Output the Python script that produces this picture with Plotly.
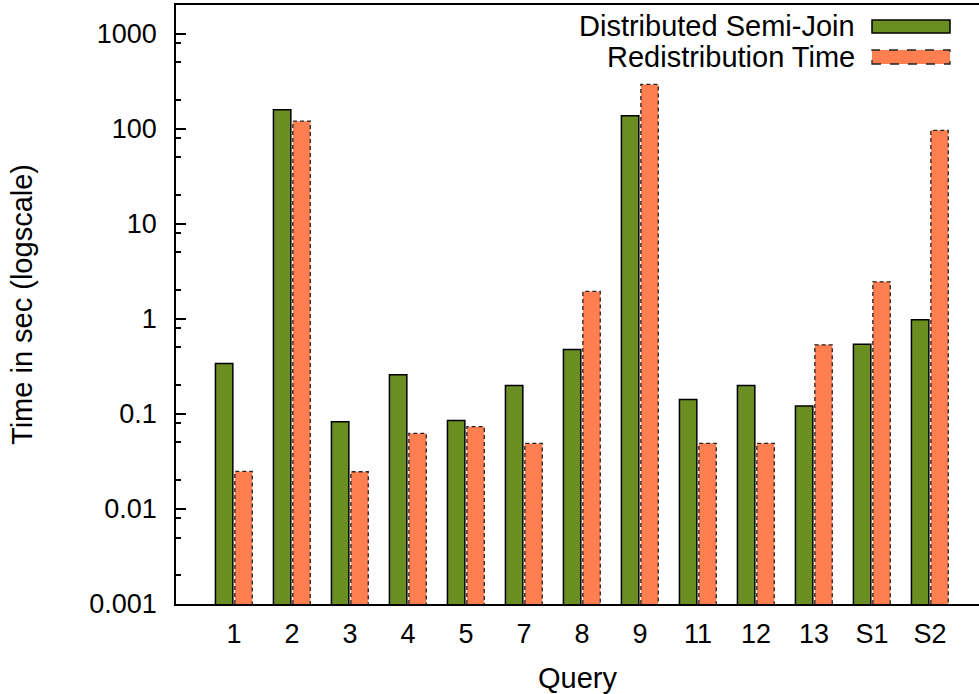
import plotly.graph_objects as go

# ---- data ----
queries = ["1", "2", "3", "4", "5", "7", "8", "9", "11", "12", "13", "S1", "S2"]
semi_join = [0.339, 158, 0.0826, 0.258, 0.0853, 0.199, 0.476, 137, 0.142, 0.199, 0.121, 0.541, 0.976]
redistribution = [0.0248, 120, 0.0246, 0.0623, 0.0733, 0.0489, 1.94, 292, 0.049, 0.049, 0.533, 2.45, 96]
ytick_vals = [0.001, 0.01, 0.1, 1, 10, 100, 1000]
ytick_text = ["0.001", "0.01", "0.1", "1", "10", "100", "1000"]
minor_vals = [m * 10 ** e for e in range(-3, 4) for m in (2, 5, 8)]

FONT = "Liberation Sans, Arial, Helvetica, sans-serif"
GREEN = "#6b8e23"
CORAL = "#ff7f50"
W = 0.30
OFF_G = -0.32
OFF_R = 0.015
YMIN = 0.001

idx = list(range(len(queries)))

fig = go.Figure()
fig.add_trace(go.Bar(
    x=idx, y=semi_join, width=W, offset=OFF_G,
    marker=dict(color=GREEN, line=dict(color="black", width=1.5)),
    showlegend=False, name="Distributed Semi-Join"))
fig.add_trace(go.Bar(
    x=idx, y=redistribution, width=W, offset=OFF_R,
    marker=dict(color=CORAL, line=dict(width=0)),
    showlegend=False, name="Redistribution Time"))

# dashed outline for the redistribution bars, derived from the data
ox, oy = [], []
for i, v in zip(idx, redistribution):
    x0, x1 = i + OFF_R, i + OFF_R + W
    ox += [x0, x0, x1, x1, None]
    oy += [YMIN, v, v, YMIN, None]
fig.add_trace(go.Scatter(
    x=ox, y=oy, mode="lines",
    line=dict(color="#222222", width=1.3, dash="4px,3px"),
    showlegend=False, hoverinfo="skip"))

fig.update_layout(
    width=979, height=694,
    margin=dict(l=176, r=0, t=5, b=90),
    paper_bgcolor="white", plot_bgcolor="white",
    barmode="overlay",
    font=dict(family=FONT, size=27, color="black"),
    xaxis=dict(
        range=[-1, 12.845],
        tickmode="array", tickvals=idx, ticktext=queries,
        ticks="", showgrid=False, zeroline=False,
        showline=True, linecolor="black", linewidth=1.5, mirror=True,
        ticklabelstandoff=5,
        title=dict(text="Query", standoff=20, font=dict(size=29)),
    ),
    yaxis=dict(
        type="log", range=[-3, 3.301],
        tickmode="array", tickvals=ytick_vals, ticktext=ytick_text,
        ticks="inside", ticklen=10, tickwidth=1.5, tickcolor="black",
        minor=dict(tickmode="array", tickvals=minor_vals, ticks="inside",
                   ticklen=5, tickwidth=1.5, tickcolor="black", showgrid=False),
        showgrid=False, zeroline=False,
        showline=True, linecolor="black", linewidth=1.5, mirror=False,
        ticklabelstandoff=12,
        title=dict(text="Time in sec (logscale)", standoff=48, font=dict(size=29)),
    ),
    yaxis2=dict(
        type="log", range=[-3, 3.301], overlaying="y", side="right", anchor="x",
        tickmode="array", tickvals=ytick_vals,
        ticks="inside", ticklen=3, tickwidth=1.5, tickcolor="black",
        showticklabels=False, showgrid=False, zeroline=False, showline=False,
    ),
)

# manual key (text left, sample right, as in the original)
def px_x(p):
    return (p - 176) / (979 - 176)

def px_y(p):
    return 1 - (p - 5) / (604 - 5)

legend_items = [("Distributed Semi-Join", GREEN, "solid", 20, 33),
                ("Redistribution Time", CORAL, "dash", 50, 64)]
for label, color, dash, y0, y1 in legend_items:
    fig.add_annotation(
        x=px_x(857), y=px_y((y0 + y1) / 2), xref="paper", yref="paper",
        text=label, showarrow=False, xanchor="right", yanchor="middle",
        font=dict(family=FONT, size=29, color="black"))
    fig.add_shape(
        type="rect", xref="paper", yref="paper",
        x0=px_x(872), x1=px_x(950), y0=px_y(y1), y1=px_y(y0),
        fillcolor=color,
        line=dict(color="black" if dash == "solid" else "#222222",
                  width=1.5 if dash == "solid" else 1.3, dash=dash))

fig.write_html("out.html",
               config={"displayModeBar": False},
               post_script="document.body.style.margin='0';document.body.style.overflow='hidden';")
